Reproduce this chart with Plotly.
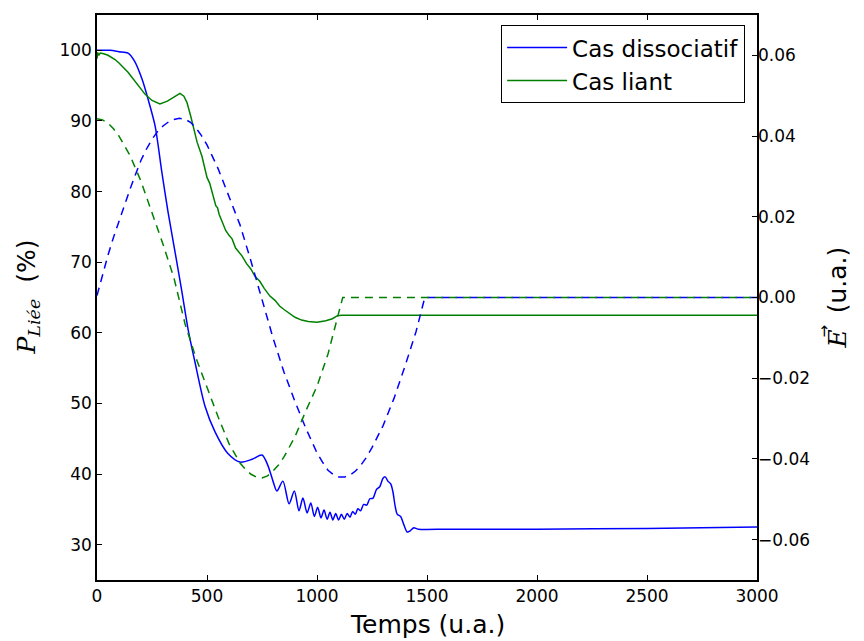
import plotly.graph_objects as go

# ---- data ----
# Cas dissociatif : population liée (%)
t_diss = [0, 60, 100, 141, 170, 205, 232, 264, 295, 323, 355, 386, 414, 445, 491, 536, 595,
          650, 705, 750, 777, 800, 818, 845, 873, 897, 918, 936, 955, 972, 988, 1003, 1018,
          1032, 1046, 1059, 1072, 1085, 1098, 1111, 1124, 1137, 1150, 1162, 1174, 1186,
          1198, 1212, 1226, 1240, 1255, 1270, 1285, 1300, 1310, 1322, 1335, 1345, 1355,
          1365, 1380, 1395, 1410, 1425, 1440, 1460, 1600, 2000, 2500, 3000]
p_diss = [100.0, 100.0, 99.8, 99.6, 98.5, 95.9, 93.1, 89.3, 82.7, 77.1, 71.4, 65.8, 60.5, 55.9,
          49.6, 46.0, 42.9, 41.7, 42.1, 42.7, 41.2, 39.0, 37.6, 39.0, 35.8, 37.6, 34.8, 36.6,
          34.5, 35.9, 34.0, 35.3, 33.8, 34.9, 33.6, 34.6, 33.5, 34.4, 33.5, 34.3, 33.6, 34.4,
          33.9, 34.7, 34.3, 35.1, 34.8, 35.7, 35.6, 36.5, 36.6, 37.8, 38.2, 39.4, 39.6, 39.0,
          38.6, 37.5, 35.5, 34.3, 34.0, 32.8, 31.8, 32.0, 32.4, 32.2, 32.2, 32.2, 32.3, 32.5]

# Cas liant : population liée (%)
t_liant = [0, 3, 8, 15, 30, 50, 82, 100, 141, 180, 218, 250, 286, 320, 350, 377, 395, 409,
           425, 436, 455, 477, 490, 500, 512, 523, 540, 548, 555, 568, 585, 600, 614, 630,
           645, 659, 680, 700, 718, 740, 760, 786, 809, 830, 850, 877, 900, 930, 960, 1000,
           1040, 1070, 1091, 1110, 2000, 3000]
p_liant = [98.8, 99.7, 99.3, 99.6, 99.5, 99.3, 98.7, 98.2, 96.9, 95.3, 93.8, 92.9, 92.4, 92.8,
           93.4, 93.9, 93.5, 92.6, 90.8, 89.3, 87.0, 85.0, 83.5, 82.0, 81.2, 79.9, 78.0, 77.7,
           76.8, 75.8, 74.5, 73.8, 73.3, 72.0, 71.5, 70.9, 69.8, 69.0, 68.0, 67.3, 66.3, 65.2,
           64.6, 63.8, 63.3, 62.7, 62.2, 61.8, 61.6, 61.5, 61.7, 62.0, 62.4, 62.5, 62.5, 62.5]

# Champs électriques (u.a.)
t_e_diss = [0, 25, 50, 75, 100, 125, 150, 175, 200, 225, 250, 275, 300, 325, 350, 375, 400,
            425, 450, 475, 500, 550, 600, 650, 700, 750, 800, 850, 900, 950, 1000, 1025, 1050,
            1075, 1100, 1125, 1150, 1175, 1200, 1225, 1250, 1300, 1350, 1400, 1450, 1490, 3000]
e_diss = [0.0005, 0.0056, 0.0105, 0.0149, 0.0190, 0.0230, 0.0268, 0.0305, 0.0340, 0.0368,
          0.0392, 0.0411, 0.0425, 0.0435, 0.0441, 0.0444, 0.0442, 0.0434, 0.0420, 0.0401,
          0.0378, 0.0320, 0.0252, 0.0180, 0.0090, -0.0003, -0.0100, -0.0185, -0.0258, -0.0325,
          -0.0385, -0.0408, -0.0428, -0.0439, -0.0445, -0.0445, -0.0440, -0.0430, -0.0415,
          -0.0396, -0.0372, -0.0318, -0.0250, -0.0170, -0.0085, 0.0, 0.0]

t_e_liant = [0, 25, 50, 75, 100, 150, 200, 250, 300, 350, 400, 450, 500, 550, 600, 650, 675,
             700, 725, 750, 775, 800, 825, 850, 900, 950, 1000, 1050, 1100, 1117, 3000]
e_liant = [0.0443, 0.0440, 0.0432, 0.0418, 0.0400, 0.0352, 0.0288, 0.0212, 0.0132, 0.0048,
           -0.0065, -0.0150, -0.0225, -0.0295, -0.0362, -0.0410, -0.0426, -0.0438, -0.0445,
           -0.0447, -0.0442, -0.0430, -0.0415, -0.0395, -0.0345, -0.0280, -0.0220, -0.0140,
           -0.0035, 0.0, 0.0]

x_ticks = [0, 500, 1000, 1500, 2000, 2500, 3000]
y_ticks = [30, 40, 50, 60, 70, 80, 90, 100]
y2_ticks = [-0.06, -0.04, -0.02, 0.00, 0.02, 0.04, 0.06]
y2_labels = ["\u22120.06", "\u22120.04", "\u22120.02", "0.00", "0.02", "0.04", "0.06"]

BLUE = "#0000ff"
GREEN = "#008000"

fig = go.Figure()
fig.add_trace(go.Scatter(x=t_diss, y=p_diss, mode="lines", name="Cas dissociatif",
                         line=dict(color=BLUE, width=1.5, shape="spline", smoothing=0.8)))
fig.add_trace(go.Scatter(x=t_liant, y=p_liant, mode="lines", name="Cas liant",
                         line=dict(color=GREEN, width=1.5)))
fig.add_trace(go.Scatter(x=t_e_diss, y=e_diss, mode="lines", yaxis="y2", showlegend=False,
                         line=dict(color=BLUE, width=1.5, dash="8px,6px")))
fig.add_trace(go.Scatter(x=t_e_liant, y=e_liant, mode="lines", yaxis="y2", showlegend=False,
                         line=dict(color=GREEN, width=1.5, dash="8px,6px")))

tickfont = dict(family="DejaVu Sans", size=17, color="#000000")
serif = "DejaVu Serif"
fig.update_layout(
    width=864, height=641,
    margin=dict(l=97, r=107, t=15, b=61),
    paper_bgcolor="white", plot_bgcolor="white",
    font=dict(family="DejaVu Sans", color="#000000"),
    xaxis=dict(range=[0, 3000], tickvals=x_ticks, ticks="inside", ticklen=5, tickwidth=1,
               tickcolor="black", showline=True, linecolor="black", linewidth=1.5,
               mirror="ticks", showgrid=False, zeroline=False, tickfont=tickfont),
    yaxis=dict(range=[25, 105], tickvals=y_ticks, ticks="inside", ticklen=5, tickwidth=1,
               tickcolor="black", showline=True, linecolor="black", linewidth=1.5,
               mirror=True, showgrid=False, zeroline=False, tickfont=tickfont),
    yaxis2=dict(range=[-0.07, 0.07], tickvals=y2_ticks, ticktext=y2_labels, overlaying="y",
                side="right", ticks="inside", ticklen=5, tickwidth=1, tickcolor="black",
                showline=False, showgrid=False, zeroline=False, tickfont=tickfont),
    legend=dict(x=0.982, y=0.982, xanchor="right", yanchor="top", bgcolor="white",
                bordercolor="black", borderwidth=1, font=dict(family="DejaVu Sans", size=23),
                itemwidth=60),
    showlegend=True,
    annotations=[
        dict(text="Temps (u.a.)", xref="paper", yref="paper", x=0.5, y=0, yshift=-44,
             xanchor="center", yanchor="middle", showarrow=False,
             font=dict(family="DejaVu Sans", size=25)),
        dict(text=f"<i><span style='font-family:{serif}'>P</span><sub><span style='font-family:{serif}'>Liée</span></sub></i>  (%)",
             xref="paper", yref="paper", x=0, y=0.5, xshift=-70, xanchor="center",
             yanchor="middle", textangle=-90, showarrow=False,
             font=dict(family="DejaVu Sans", size=25)),
        dict(text=f"<i><span style='font-family:{serif}'>E</span></i>  (u.a.)",
             xref="paper", yref="paper", x=1, y=0.5, xshift=80, xanchor="center",
             yanchor="middle", textangle=-90, showarrow=False,
             font=dict(family="DejaVu Sans", size=25)),
        dict(text="\u2192", xref="paper", yref="paper", x=1, y=0.5, xshift=66, yshift=-34,
             xanchor="center", yanchor="middle", textangle=-90, showarrow=False,
             font=dict(family="DejaVu Sans", size=15)),
    ],
)

fig.write_html("out.html")
